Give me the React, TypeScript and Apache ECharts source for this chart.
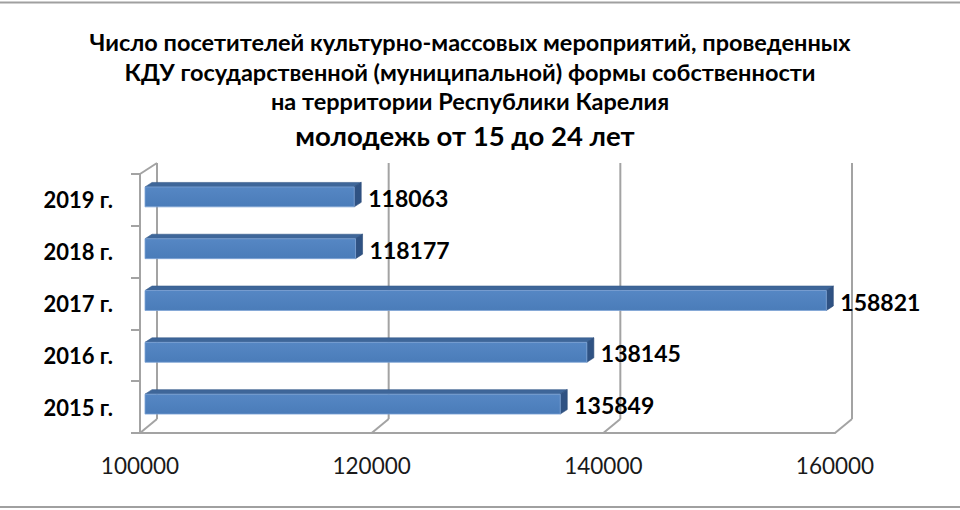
import React, { useEffect, useRef } from 'react';
import * as echarts from 'echarts';

const titleLines = [
  'Число посетителей культурно-массовых мероприятий, проведенных',
  'КДУ государственной (муниципальной) формы собственности',
  'на территории Республики Карелия',
];
const subtitle = 'молодежь от 15 до 24 лет';
const categories = ['2015 г.', '2016 г.', '2017 г.', '2018 г.', '2019 г.'];
const values = [135849, 138145, 158821, 118177, 118063];
const xTicks = [100000, 120000, 140000, 160000];
const X_MIN = 100000;
const X_MAX = 160000;
const X_STEP = 20000;

export default function App() {
  const ref = useRef<HTMLDivElement>(null);
  useEffect(() => {
    document.body.style.margin = '0';
    const chart = echarts.init(ref.current!, null, { renderer: 'svg' });
    const FONT = 'Lato, "Noto Sans", sans-serif';
    const wallColor = '#a3a3a3';
    const wallStyle = { stroke: wallColor, lineWidth: 2 };

    chart.setOption({
      animation: false,
      grid: { left: 140, top: 174, width: 695, height: 259 },
      xAxis: {
        type: 'value',
        min: X_MIN,
        max: X_MAX,
        interval: X_STEP,
        axisLine: { show: true, lineStyle: { color: wallColor, width: 2 } },
        axisTick: { show: false },
        splitLine: { show: false },
        axisLabel: {
          margin: 21,
          fontSize: 22.5,
          fontFamily: FONT,
          color: '#1a1a1a',
          formatter: (v: number) => String(v),
        },
      },
      yAxis: {
        type: 'category',
        data: categories,
        axisLine: { show: true, lineStyle: { color: wallColor, width: 2 } },
        axisTick: { show: true, length: 9, lineStyle: { color: wallColor, width: 2 } },
        axisLabel: {
          margin: 27,
          fontSize: 22,
          fontWeight: 'bold',
          fontFamily: FONT,
          color: '#000',
          padding: [4, 0, 0, 0],
        },
      },
      graphic: [
        { type: 'line', shape: { x1: 0, y1: 2.5, x2: 960, y2: 2.5 }, style: { stroke: '#a0a0a0', lineWidth: 2 } },
        { type: 'line', shape: { x1: 0, y1: 507, x2: 960, y2: 507 }, style: { stroke: '#a0a0a0', lineWidth: 2 } },
        ...titleLines.map((t, k) => ({
          type: 'text',
          x: 470,
          y: 42 + k * 29.5,
          style: {
            text: t,
            align: 'center',
            verticalAlign: 'middle',
            fontSize: 23.5,
            fontWeight: 'bold',
            fontFamily: FONT,
            fill: '#000',
          },
        })),
        {
          type: 'text',
          x: 465,
          y: 135,
          style: {
            text: subtitle,
            align: 'center',
            verticalAlign: 'middle',
            fontSize: 27.5,
            fontWeight: 'bold',
            fontFamily: FONT,
            fill: '#000',
          },
        },
      ],
      series: [
        {
          type: 'custom',
          silent: true,
          z: 1,
          data: [[X_MIN, 0]],
          encode: { x: 0, y: 1 },
          renderItem: (params: any, api: any) => {
            const cs = params.coordSys;
            const gx = cs.x;
            const gy = cs.y;
            const gb = cs.y + cs.height;
            const backTop = gy - 11;
            const backBottom = gb - 14;
            const children: any[] = [];
            children.push({ type: 'line', shape: { x1: gx, y1: gy, x2: gx + 17, y2: backTop }, style: wallStyle });
            xTicks.forEach((v) => {
              const x = api.coord([v, 0])[0];
              children.push({ type: 'line', shape: { x1: x + 17, y1: backTop, x2: x + 17, y2: backBottom }, style: wallStyle });
              children.push({ type: 'line', shape: { x1: x, y1: gb, x2: x + 17, y2: backBottom }, style: wallStyle });
            });
            return { type: 'group', children };
          },
        },
        {
          type: 'custom',
          z: 2,
          data: values.map((v, i) => [v, i]),
          encode: { x: 0, y: 1 },
          renderItem: (params: any, api: any) => {
            const v = api.value(0);
            const i = api.value(1);
            const end = api.coord([v, i]);
            const start = api.coord([X_MIN, i]);
            const band = api.size([0, 1])[1];
            const h = band * 0.385;
            const cy = end[1] - 3;
            const x0 = start[0] + 5;
            const x1 = end[0] + 5;
            const y0 = cy - h / 2;
            const y1 = cy + h / 2;
            const dx = 7;
            const dy = -4.5;
            return {
              type: 'group',
              children: [
                {
                  type: 'polygon',
                  shape: { points: [[x0, y0], [x1, y0], [x1 + dx, y0 + dy], [x0 + dx, y0 + dy]] },
                  style: { fill: '#3e6699', stroke: '#365b8a', lineWidth: 0.6 },
                },
                {
                  type: 'polygon',
                  shape: { points: [[x1, y0], [x1 + dx, y0 + dy], [x1 + dx, y1 + dy], [x1, y1]] },
                  style: { fill: '#2f5283', stroke: '#2a4a77', lineWidth: 0.6 },
                },
                {
                  type: 'rect',
                  shape: { x: x0, y: y0, width: x1 - x0, height: h },
                  style: {
                    fill: new echarts.graphic.LinearGradient(0, 0, 0, 1, [
                      { offset: 0, color: '#5687c4' },
                      { offset: 1, color: '#4a7cb9' },
                    ]),
                    stroke: '#7ea3d6',
                    lineWidth: 0.8,
                  },
                },
                {
                  type: 'text',
                  style: {
                    text: String(v),
                    x: x1 + dx + 7,
                    y: cy + 1,
                    align: 'left',
                    verticalAlign: 'middle',
                    fontSize: 23,
                    fontWeight: 'bold',
                    fontFamily: FONT,
                    fill: '#000',
                  },
                },
              ],
            };
          },
        },
      ],
    });
    return () => chart.dispose();
  }, []);
  return <div ref={ref} style={{ width: 960, height: 510 }} />;
}
